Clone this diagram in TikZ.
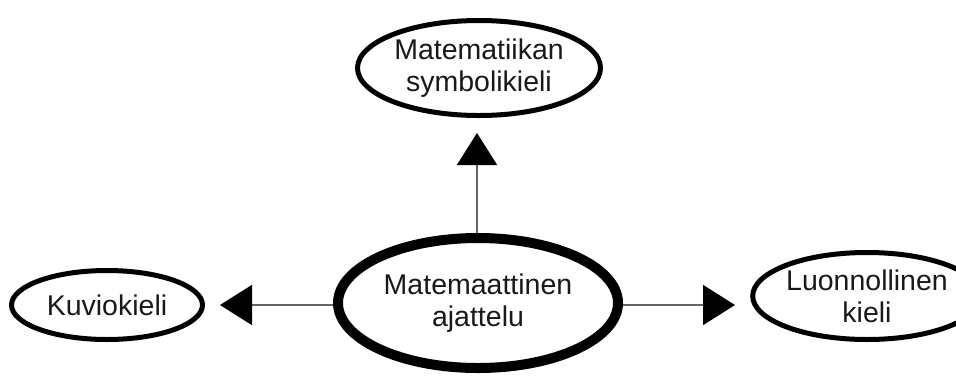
\documentclass[tikz,border=0pt]{standalone}
\usepackage{fontspec}
\setmainfont{Liberation Sans}
\usetikzlibrary{shapes.geometric,arrows.meta}
\tikzset{
  oval/.style={ellipse, draw=black, line width=5pt, inner sep=0pt, align=center,
    font=\fontsize{28.5}{32}\selectfont, text=black!90},
  bigoval/.style={oval, line width=10pt},
  conn/.style={draw=black!60, line width=1.6pt,
    -{Triangle[length=32pt,width=40pt,color=black,fill=black]}}
}
\begin{document}
\begin{tikzpicture}[x=1pt,y=-1pt]
\path[use as bounding box, clip] (0,0) rectangle (956,376);
\node[oval, minimum width=243pt, minimum height=95pt] (sym) at (479,68) {Matematiikan\\symbolikieli};
\node[oval, minimum width=191pt, minimum height=69pt] (kuv) at (107,305) {Kuviokieli};
\node[oval, minimum width=225pt, minimum height=87pt] (luo) at (867,296) {Luonnollinen\\kieli};
\node[bigoval, minimum width=280pt, minimum height=130pt] (mat) at (478,303) {Matemaattinen\\ajattelu};
\coordinate (tu) at (477,133);
\coordinate (tl) at (220,305);
\coordinate (tr) at (735,305);
\draw[conn] (mat.north -| tu) -- (tu);
\draw[conn] (mat.west |- tl) -- (tl);
\draw[conn] (mat.east |- tr) -- (tr);
\end{tikzpicture}
\end{document}
